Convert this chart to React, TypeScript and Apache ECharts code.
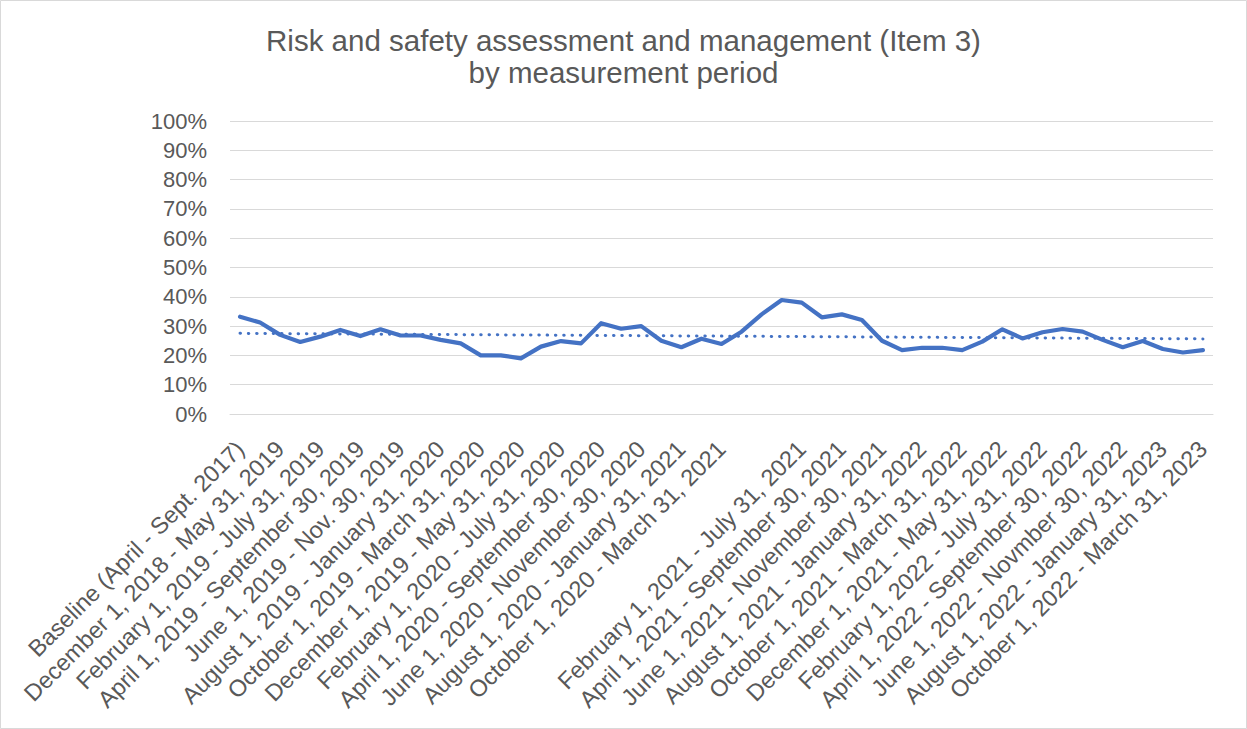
import React, { useEffect, useRef } from "react";
import * as echarts from "echarts";

const titleText = "Risk and safety assessment and management (Item 3)\nby measurement period";

const categories: string[] = [
  "Baseline (April - Sept. 2017)",
  "November 1, 2018 - April 30, 2019",
  "December 1, 2018 - May 31, 2019",
  "January 1, 2019 - June 30, 2019",
  "February 1, 2019 - July 31, 2019",
  "March 1, 2019 - August 31, 2019",
  "April 1, 2019 - September 30, 2019",
  "May 1, 2019 - October 31, 2019",
  "June 1, 2019 - Nov. 30, 2019",
  "July 1, 2019 - December 31, 2019",
  "August 1, 2019 - January 31, 2020",
  "September 1, 2019 - February 29, 2020",
  "October 1, 2019 - March 31, 2020",
  "November 1, 2019 - April 30, 2020",
  "December 1, 2019 - May 31, 2020",
  "January 1, 2020 - June 30, 2020",
  "February 1, 2020 - July 31, 2020",
  "March 1, 2020 - August 31, 2020",
  "April 1, 2020 - September 30, 2020",
  "May 1, 2020 - October 31, 2020",
  "June 1, 2020 - November 30, 2020",
  "July 1, 2020 - December 31, 2020",
  "August 1, 2020 - January 31, 2021",
  "September 1, 2020 - February 28, 2021",
  "October 1, 2020 - March 31, 2021",
  "November 1, 2020 - April 30, 2021",
  "",
  "January 1, 2021 - June 30, 2021",
  "February 1, 2021 - July 31, 2021",
  "March 1, 2021 - August 31, 2021",
  "April 1, 2021 - September 30, 2021",
  "May 1, 2021 - October 31, 2021",
  "June 1, 2021 - November 30, 2021",
  "July 1, 2021 - December 31, 2021",
  "August 1, 2021 - January 31, 2022",
  "September 1, 2021 - February 28, 2022",
  "October 1, 2021 - March 31, 2022",
  "November 1, 2021 - April 30, 2022",
  "December 1, 2021 - May 31, 2022",
  "January 1, 2022 - June 30, 2022",
  "February 1, 2022 - July 31, 2022",
  "March 1, 2022 - August 31, 2022",
  "April 1, 2022 - September 30, 2022",
  "May 1, 2022 - October 31, 2022",
  "June 1, 2022 - Novmber 30, 2022",
  "July 1, 2022 - December 31, 2022",
  "August 1, 2022 - January 31, 2023",
  "September 1, 2022 - February 28, 2023",
  "October 1, 2022 - March 31, 2023",
];

const values: number[] = [
  33.2, 31.2, 27, 24.6, 26.4, 28.7, 26.6, 28.9, 26.8, 26.8,
  25.3, 24.1, 20, 20, 19, 23, 24.9, 24.1, 31, 29.1,
  30, 25, 22.8, 25.7, 23.9, 28.1, 34, 38.9, 38, 33,
  34, 32.1, 25, 21.8, 22.6, 22.6, 21.8, 24.7, 28.9, 25.8,
  27.9, 29, 28.1, 25.3, 22.8, 24.9, 22.2, 21, 21.8,
];

// Linear trendline (least squares over the data), as Excel draws it
function trend(vals: number[]): number[] {
  const n = vals.length;
  let sx = 0, sy = 0, sxx = 0, sxy = 0;
  vals.forEach((v, i) => {
    sx += i; sy += v; sxx += i * i; sxy += i * v;
  });
  const b = (n * sxy - sx * sy) / (n * sxx - sx * sx);
  const a = (sy - b * sx) / n;
  return vals.map((_, i) => +(a + b * i).toFixed(3));
}

const FONT = "'Liberation Sans', Arial, sans-serif";

export default function App() {
  const ref = useRef<HTMLDivElement>(null);
  useEffect(() => {
    if (!ref.current) return;
    const chart = echarts.init(ref.current, undefined, { renderer: "svg" });
    chart.setOption({
      animation: false,
      backgroundColor: "#ffffff",
      title: {
        text: titleText,
        left: "center",
        top: 19,
        textStyle: {
          fontFamily: FONT,
          fontSize: 29.5,
          lineHeight: 32,
          fontWeight: "normal",
          color: "#595959",
        },
      },
      graphic: [
        {
          type: "rect",
          shape: { x: 0.5, y: 0.5, width: 1246, height: 728 },
          style: { fill: "none", stroke: "#D9D9D9", lineWidth: 1 },
          silent: true,
        },
      ],
      grid: { left: 230, right: 34, top: 121, bottom: 315, containLabel: false },
      xAxis: {
        type: "category",
        data: categories,
        boundaryGap: true,
        axisLine: { show: true, lineStyle: { color: "#D9D9D9", width: 1 } },
        axisTick: { show: false },
        axisLabel: {
          interval: (i: number) => i % 2 === 0,
          rotate: 45,
          align: "right",
          verticalAlign: "middle",
          margin: 31,
          fontFamily: FONT,
          fontSize: 23.5,
          color: "#595959",
        },
        splitLine: { show: false },
      },
      yAxis: {
        type: "value",
        min: 0,
        max: 100,
        interval: 10,
        axisLine: { show: false },
        axisTick: { show: false },
        axisLabel: {
          formatter: "{value}%",
          margin: 23,
          fontFamily: FONT,
          fontSize: 22,
          color: "#595959",
        },
        splitLine: { lineStyle: { color: "#D9D9D9", width: 1 } },
      },
      series: [
        {
          type: "line",
          name: "Item 3",
          data: values,
          symbol: "none",
          lineStyle: { color: "#4472C4", width: 4.2, join: "round", cap: "round" },
          z: 3,
        },
        {
          type: "line",
          name: "Linear trend",
          data: trend(values),
          symbol: "none",
          lineStyle: { color: "#4472C4", width: 3, type: [0.5, 7.8], cap: "round" },
          z: 2,
        },
      ],
    });
    return () => chart.dispose();
  }, []);
  return (
    <div
      ref={ref}
      style={{ position: "fixed", left: 0, top: 0, width: 1247, height: 729 }}
    />
  );
}
